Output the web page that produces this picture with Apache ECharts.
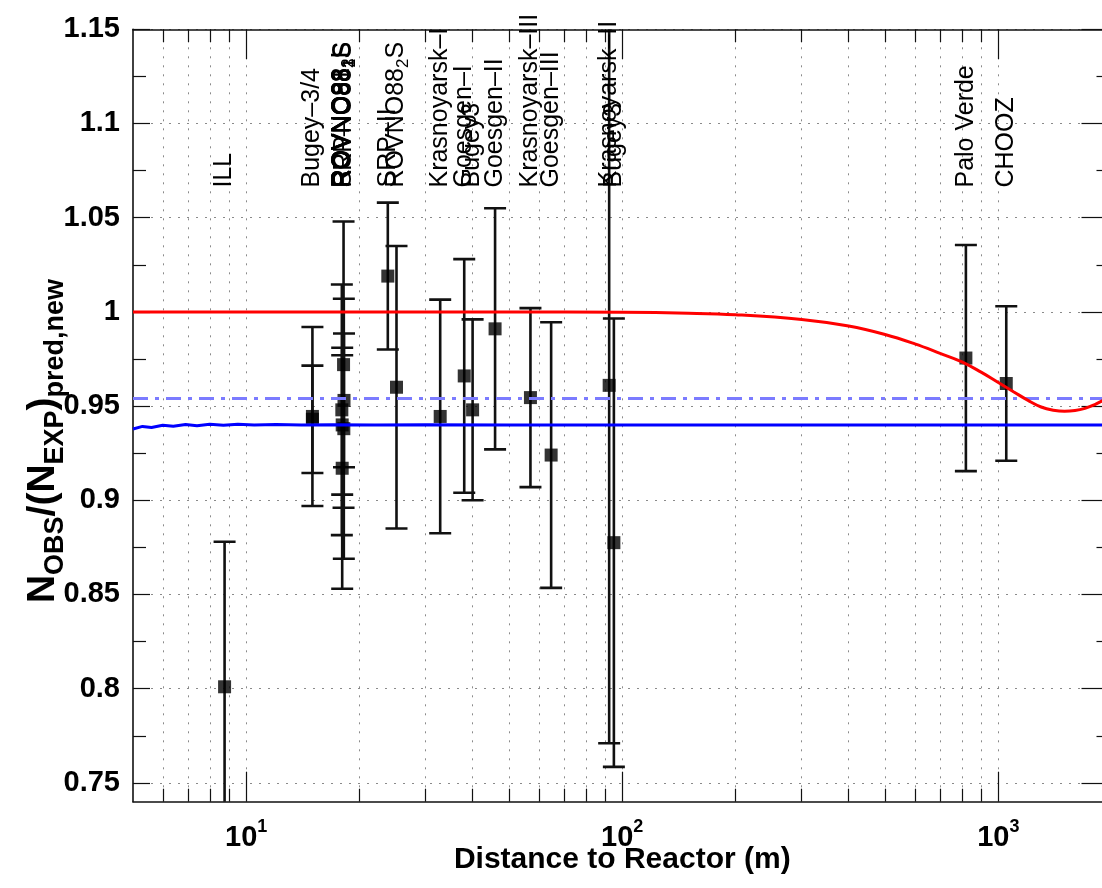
<!DOCTYPE html>
<html><head><meta charset="utf-8">
<script src="https://cdn.jsdelivr.net/npm/echarts@6/dist/echarts.min.js"></script>
<style>html,body{margin:0;padding:0;width:1102px;height:888px;overflow:hidden;background:#fff}#c{width:1130px;height:888px}</style>
</head><body><div id="c"></div><script>
// ---- data ----
const expDist  = [8.76, 15, 15, 18, 18, 17.96, 18.15, 18.18, 18.2, 23.8, 25.1, 32.8, 38, 40, 45.9, 57, 64.7, 92.3, 95, 820, 1050];
const expRatio = [0.801, 0.943, 0.9445, 0.940, 0.917, 0.948, 0.972, 0.938, 0.953, 1.019, 0.960, 0.9445, 0.966, 0.948, 0.991, 0.9545, 0.924, 0.961, 0.8775, 0.9755, 0.962];
const expErr   = [0.077, 0.0285, 0.0475, 0.037, 0.064, 0.0665, 0.076, 0.069, 0.0355, 0.039, 0.075, 0.062, 0.062, 0.048, 0.064, 0.0475, 0.0705, 0.19, 0.119, 0.06, 0.041];

const labelNames = ['ILL','Bugey–3/4','ROVNO91','ROVNO88_1I','ROVNO88_2I','ROVNO88_1S','ROVNO88_3S','SRP–I','SRP–II','ROVNO88_2S','Krasnoyarsk–I','Goesgen–I','Bugey3','Goesgen–II','Krasnoyarsk–III','Goesgen–III','Krasnoyarsk–II','Bugey3','Palo Verde','CHOOZ'];
const labelDist  = [8.76, 15, 18, 18, 17.96, 18.15, 18.18, 18.2, 23.8, 25.1, 32.8, 38, 40, 45.9, 57, 64.7, 92.3, 95, 820, 1050];

const redDist  = [5, 20, 50, 100, 150, 200, 300, 400, 500, 600, 700, 800, 900, 1000, 1100, 1200, 1300, 1400, 1500, 1600, 1700, 1800, 1900, 2000];
const redRatio = [1.0, 1.0, 1.0, 0.9998, 0.9993, 0.9985, 0.996, 0.9925, 0.988, 0.983, 0.978, 0.9735, 0.968, 0.9625, 0.9575, 0.953, 0.9495, 0.9478, 0.9472, 0.9476, 0.9488, 0.9507, 0.953, 0.9555];

const blueDist  = [5.0, 5.3, 5.6, 6.0, 6.4, 6.9, 7.4, 8.0, 8.7, 9.5, 10.5, 12, 14, 17, 22, 30, 50, 100, 2000];
const blueRatio = [0.9378, 0.9392, 0.9386, 0.9398, 0.9393, 0.9402, 0.9396, 0.9403, 0.9398, 0.9403, 0.9399, 0.9402, 0.9399, 0.9401, 0.9399, 0.9401, 0.940, 0.940, 0.940];

const dashDist  = [5, 2000];
const dashRatio = [0.954, 0.954];

const xMajor = [10, 100, 1000];
const xMinor = [6, 7, 8, 9, 20, 30, 40, 50, 60, 70, 80, 90, 200, 300, 400, 500, 600, 700, 800, 900];
const yMajor = [0.75, 0.8, 0.85, 0.9, 0.95, 1, 1.05, 1.1, 1.15];
const yMinor = [0.775, 0.825, 0.875, 0.925, 0.975, 1.025, 1.075, 1.125];

// ---- chart ----
const FONT = 'Liberation Sans';
const LABEL_Y = 1.066;
const gridStyle = {type: [2, 7], color: '#8a8a8a', width: 1};

function xAxisDef(pos, ticks, len, showLine, showSplit, extra) {
  return Object.assign({
    type: 'log', logBase: 10, min: 5, max: 2000, position: pos, gridIndex: 0,
    axisLine: {show: showLine, onZero: false, lineStyle: {color: '#111', width: 1.6}},
    axisTick: {show: true, inside: true, length: len, customValues: ticks, lineStyle: {color: '#111', width: 1.2}},
    axisLabel: {show: false},
    splitLine: {show: showSplit, lineStyle: gridStyle},
    minorTick: {show: false}, minorSplitLine: {show: false}
  }, extra || {});
}
function yAxisDef(pos, ticks, len, showLine, showSplit, extra) {
  return Object.assign({
    type: 'value', min: 0.74, max: 1.15, position: pos, gridIndex: 0,
    axisLine: {show: showLine, onZero: false, lineStyle: {color: '#111', width: 1.6}},
    axisTick: {show: true, inside: true, length: len, customValues: ticks, lineStyle: {color: '#111', width: 1.2}},
    axisLabel: {show: false},
    splitLine: {show: showSplit, lineStyle: gridStyle}
  }, extra || {});
}

const chart = echarts.init(document.getElementById('c'), null, {renderer: 'canvas'});
chart.setOption({
  animation: false,
  backgroundColor: '#fff',
  grid: {left: 133, top: 29.3, right: 18.5, bottom: 86.3, containLabel: false, outerBoundsMode: 'none'},
  xAxis: [
    xAxisDef('bottom', xMajor, 30, true, true, {
      axisLabel: {show: true, customValues: xMajor, margin: 16,
        formatter: v => '{b|10}{s|' + Math.round(Math.log10(v)) + '}',
        rich: {b: {fontFamily: FONT, fontSize: 29, fontWeight: 'bold', color: '#000', lineHeight: 40},
               s: {fontFamily: FONT, fontSize: 18, fontWeight: 'bold', color: '#000', lineHeight: 18, verticalAlign: 'top'}}},
      name: 'Distance to Reactor (m)', nameLocation: 'middle', nameGap: 43, nameMoveOverlap: false,
      nameTextStyle: {fontFamily: FONT, fontSize: 30, fontWeight: 'bold', color: '#000'}
    }),
    xAxisDef('bottom', xMinor, 13, false, true),
    xAxisDef('top', xMajor, 30, true, false),
    xAxisDef('top', xMinor, 13, false, false)
  ],
  yAxis: [
    yAxisDef('left', yMajor, 17, true, true, {
      axisLabel: {show: true, customValues: yMajor, margin: 13, formatter: v => String(v),
        fontFamily: FONT, fontSize: 29, fontWeight: 'bold', color: '#000'}
    }),
    yAxisDef('left', yMinor, 13, false, false),
    yAxisDef('right', yMajor, 30, true, false),
    yAxisDef('right', yMinor, 15, false, false)
  ],
  graphic: [{
    type: 'text', x: 43, y: 441, rotation: Math.PI / 2, z: 100,
    style: {
      text: '{n|N}{s|OBS}{n|/(N}{s|EXP}{n|)}{s|pred,new}',
      align: 'center', verticalAlign: 'middle', fill: '#000',
      rich: {n: {fontFamily: FONT, fontSize: 39, fontWeight: 'bold', lineHeight: 52, fill: '#000'},
             s: {fontFamily: FONT, fontSize: 27, fontWeight: 'bold', lineHeight: 27, verticalAlign: 'bottom', fill: '#000'}}
    }
  }],
  series: [
    {
      type: 'custom', name: 'errors', xAxisIndex: 0, yAxisIndex: 0, clip: true, z: 2,
      data: expDist.map((d, i) => [d, expRatio[i] - expErr[i], expRatio[i] + expErr[i]]),
      encode: {x: 0, y: [1, 2]},
      renderItem: (params, api) => {
        const x = api.value(0);
        const lo = api.coord([x, api.value(1)]);
        const hi = api.coord([x, api.value(2)]);
        const w = 11, st = {stroke: '#111', lineWidth: 2.6};
        return {type: 'group', children: [
          {type: 'line', shape: {x1: lo[0], y1: lo[1], x2: hi[0], y2: hi[1]}, style: st},
          {type: 'line', shape: {x1: lo[0] - w, y1: lo[1], x2: lo[0] + w, y2: lo[1]}, style: st},
          {type: 'line', shape: {x1: hi[0] - w, y1: hi[1], x2: hi[0] + w, y2: hi[1]}, style: st}
        ]};
      }
    },
    {
      type: 'scatter', name: 'points', xAxisIndex: 0, yAxisIndex: 0, z: 3,
      symbol: 'rect', symbolSize: 13, itemStyle: {color: '#000'},
      data: expDist.map((d, i) => [d, expRatio[i]])
    },
    {
      type: 'line', name: 'mean', xAxisIndex: 0, yAxisIndex: 0, z: 4, showSymbol: false, symbol: 'none',
      lineStyle: {color: '#0000ff', width: 3},
      data: blueDist.map((d, i) => [d, blueRatio[i]])
    },
    {
      type: 'line', name: 'dashdot', xAxisIndex: 0, yAxisIndex: 0, z: 4, showSymbol: false, symbol: 'none',
      lineStyle: {color: '#7b7bff', width: 3, type: [15, 7, 4, 7]},
      data: dashDist.map((d, i) => [d, dashRatio[i]])
    },
    {
      type: 'line', name: 'osc', xAxisIndex: 0, yAxisIndex: 0, z: 5, showSymbol: false, symbol: 'none', smooth: 0.4,
      lineStyle: {color: '#ff0000', width: 3},
      data: redDist.map((d, i) => [d, redRatio[i]])
    },
    {
      type: 'custom', name: 'labels', xAxisIndex: 0, yAxisIndex: 0, z: 6, clip: false,
      data: labelDist.map((d, i) => [d, LABEL_Y, labelNames[i]]),
      renderItem: (params, api) => {
        const i = params.dataIndex;
        const p = api.coord([labelDist[i], LABEL_Y]);
        const txt = labelNames[i].replace(/_(\w)/, '{s|$1}');
        return {type: 'text', x: p[0], y: p[1], rotation: Math.PI / 2,
          style: {text: txt, fontFamily: FONT, fontSize: 25, lineHeight: 30, fill: '#000',
            align: 'left', verticalAlign: 'middle',
            rich: {s: {fontFamily: FONT, fontSize: 17, lineHeight: 17, verticalAlign: 'bottom', fill: '#000'}}}};
      }
    }
  ]
});
</script></body></html>
